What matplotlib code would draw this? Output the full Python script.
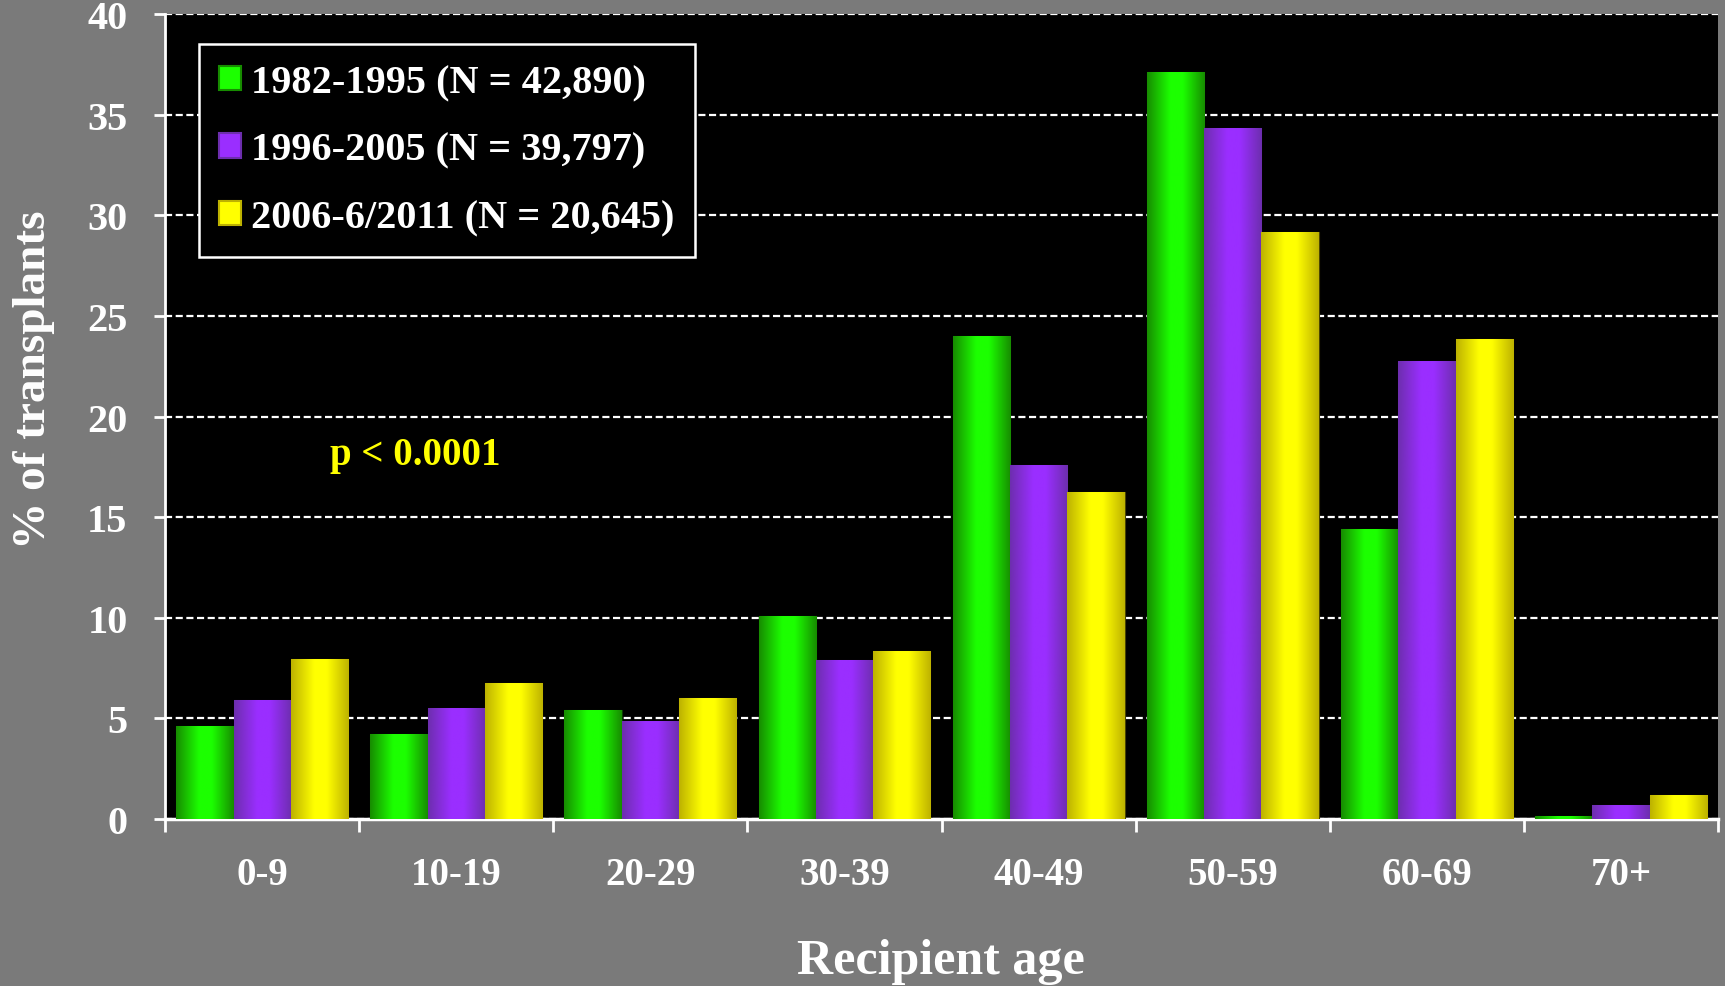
import numpy as np
import matplotlib
matplotlib.use("Agg")
import matplotlib.pyplot as plt
from matplotlib.colors import LinearSegmentedColormap
from matplotlib.patches import Patch

# Recipient age groups and share of transplants (%) per era
age_groups = ["0-9", "10-19", "20-29", "30-39", "40-49", "50-59", "60-69", "70+"]
era_labels = ["1982-1995 (N = 42,890)", "1996-2005 (N = 39,797)", "2006-6/2011 (N = 20,645)"]
pct_1982_1995 = [4.6, 4.2, 5.4, 10.1, 24.0, 37.1, 14.4, 0.15]
pct_1996_2005 = [5.9, 5.5, 4.85, 7.9, 17.6, 34.35, 22.75, 0.7]
pct_2006_2011 = [7.95, 6.75, 6.0, 8.35, 16.25, 29.15, 23.85, 1.2]
y_ticks = [0, 5, 10, 15, 20, 25, 30, 35, 40]
p_value_text = "p < 0.0001"

# bar shading: (dark edge, bright centre, outline)
shades = [
    ("#178c00", "#1cff00", "#0b3a00"),
    ("#6d2eae", "#9a2eff", "#2a0f45"),
    ("#bdb200", "#ffff00", "#4a4500"),
]

FONT = ["Liberation Serif", "DejaVu Serif"]
plt.rcParams["font.family"] = FONT
plt.rcParams["font.weight"] = "bold"

BG = "#7a7a7a"
fig = plt.figure(figsize=(17.25, 9.87), dpi=100, facecolor=BG)
ax = fig.add_axes([0.0957, 0.1692, 0.9003, 0.8156])
ax.set_facecolor("black")

x = np.arange(len(age_groups))
width = 0.295
series = [pct_1982_1995, pct_1996_2005, pct_2006_2011]
offsets = [-width, 0.0, width]

grad = np.linspace(0, 1, 256).reshape(1, -1)
for vals, off, (dark, bright, edge), lab in zip(series, offsets, shades, era_labels):
    bars = ax.bar(x + off, vals, width=width, color=bright, edgecolor=edge,
                  linewidth=0.8, zorder=3, label=lab)
    cmap = LinearSegmentedColormap.from_list(
        "shade", [(0.0, dark), (0.4, bright), (0.62, bright), (1.0, dark)])
    for b in bars:
        bx, by = b.get_x(), b.get_y()
        bw, bh = b.get_width(), b.get_height()
        im = ax.imshow(grad, cmap=cmap, aspect="auto", interpolation="bilinear",
                       extent=[bx, bx + bw, by, by + bh], zorder=3.5)
        im.set_clip_path(b)

ax.set_xlim(-0.5, len(age_groups) - 0.5)
ax.set_ylim(0, 40)

# y axis
ax.set_yticks(y_ticks)
ax.set_yticklabels([str(t) for t in y_ticks], fontsize=29, color="white",
                   fontweight="bold")
ax.tick_params(axis="y", colors="white", length=8, width=2, pad=19)
ax.yaxis.grid(True, color="white", linewidth=1.6, linestyle=(0, (3.2, 1.6)))
ax.set_axisbelow(True)

# x axis: ticks at group boundaries, labels at group centres
ax.set_xticks(np.arange(-0.5, len(age_groups), 1.0))
ax.set_xticklabels([])
ax.tick_params(axis="x", which="major", colors="white", length=9, width=2,
               direction="out")
ax.set_xticks(x, minor=True)
ax.set_xticklabels(age_groups, minor=True, fontsize=28, color="white",
                   fontweight="bold")
ax.tick_params(axis="x", which="minor", length=0, pad=27)

for side in ("top", "right"):
    ax.spines[side].set_visible(False)
ax.spines["left"].set_color("white")
ax.spines["left"].set_linewidth(2)
ax.spines["bottom"].set_color("white")
ax.spines["bottom"].set_linewidth(2.5)

# labels
fig.text(34 / 1725, 1 - 380 / 987, "% of transplants", rotation=90,
         ha="center", va="center", fontsize=34, color="white",
         fontweight="bold")
fig.text(941 / 1725, 1 - 962 / 987, "Recipient age", ha="center",
         va="center", fontsize=36, color="white", fontweight="bold")
ax.text(0.79, 18.1, p_value_text, ha="center", va="center", fontsize=28,
        color="#ffff00", fontweight="bold", zorder=5)

# legend
handles = [Patch(facecolor=s[1], edgecolor=s[0], linewidth=1.5) for s in shades]
leg = ax.legend(handles, era_labels, loc="upper left",
                bbox_to_anchor=(0.0219, 0.9627), borderaxespad=0,
                frameon=True, fancybox=False, facecolor="black",
                edgecolor="white", framealpha=1, fontsize=29,
                handlelength=0.55, handleheight=0.55, handletextpad=0.25,
                labelspacing=0.76, borderpad=0.5)
leg.get_frame().set_linewidth(1.8)
for t in leg.get_texts():
    t.set_color("white")
    t.set_fontweight("bold")
leg.set_zorder(6)

fig.savefig("out.png", dpi=100, facecolor=BG)
